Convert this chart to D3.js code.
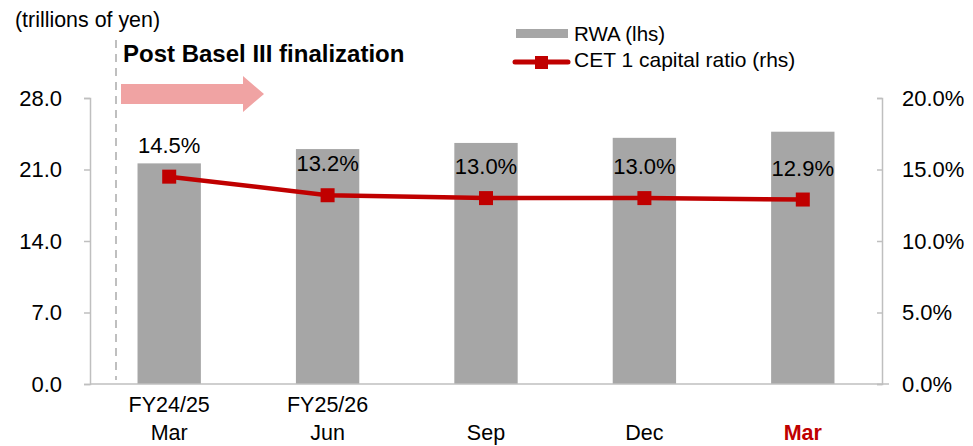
<!DOCTYPE html>
<html>
<head>
<meta charset="utf-8">
<script src="https://cdn.jsdelivr.net/npm/d3@7"></script>
<style>
  body { margin: 0; background: #fff; }
  text { font-family: Arial, "Liberation Sans", sans-serif; fill: #000; }
</style>
</head>
<body>
<div id="vis"></div>
<script>
// data
const periods = ["FY24/25 Mar", "FY25/26 Jun", "Sep", "Dec", "Mar"]
const topLines = ["FY24/25", "FY25/26", "", "", ""]
const bottomLines = ["Mar", "Jun", "Sep", "Dec", "Mar"]
const rwa = [21.6, 23.0, 23.6, 24.1, 24.7]
const cet1 = [0.145, 0.132, 0.130, 0.130, 0.129]
const leftTicks = [0, 7, 14, 21, 28]
const rightTicks = [0, 0.05, 0.10, 0.15, 0.20]

const W = 973, H = 446
const margin = {left: 90, right: 91, top: 98, bottom: 62}
const barColor = '#a6a6a6'
const lineColor = '#c00000'
const axisColor = '#bfbfbf'
const numSize = '22px'

const svg = d3.select('#vis').append('svg')
    .attr('width', W)
    .attr('height', H)

const x = d3.scaleBand()
    .domain(periods)
    .range([margin.left, W - margin.right])
    .paddingInner(0.6)
    .paddingOuter(0.3)

const yL = d3.scaleLinear().domain([0, 28]).range([H - margin.bottom, margin.top])
const yR = d3.scaleLinear().domain([0, 0.2]).range([H - margin.bottom, margin.top])

// bars
svg.selectAll('.bar')
    .data(rwa)
    .enter()
    .append('rect')
        .attr('class', 'bar')
        .attr('x', (d, i) => x(periods[i]))
        .attr('width', x.bandwidth())
        .attr('y', d => yL(d))
        .attr('height', d => yL(0) - yL(d))
        .attr('fill', barColor)

// left axis
let leftAxis = svg.append('g')
    .attr('transform', `translate(${margin.left},0)`)
    .call(d3.axisLeft(yL).tickValues(leftTicks).tickSize(6).tickPadding(22).tickFormat(d3.format('.1f')))
leftAxis.selectAll('path, line').attr('stroke', axisColor).attr('stroke-width', 1.5)
leftAxis.selectAll('text').attr('font-size', numSize).attr('fill', '#000')

// right axis
let rightAxis = svg.append('g')
    .attr('transform', `translate(${W - margin.right},0)`)
    .call(d3.axisRight(yR).tickValues(rightTicks).tickSize(-5).tickPadding(20).tickFormat(d3.format('.1%')))
rightAxis.selectAll('path, line').attr('stroke', axisColor).attr('stroke-width', 1.5)
rightAxis.selectAll('text').attr('font-size', numSize).attr('fill', '#000')

// baseline
svg.append('line')
    .attr('x1', margin.left).attr('x2', W - margin.right + 7)
    .attr('y1', yL(0)).attr('y2', yL(0))
    .attr('stroke', axisColor).attr('stroke-width', 1.5)

// category labels
let cx = (d, i) => x(periods[i]) + x.bandwidth() / 2
svg.selectAll('.top-label')
    .data(topLines)
    .enter()
    .append('text')
        .attr('x', cx)
        .attr('y', yL(0) + 28)
        .attr('text-anchor', 'middle')
        .attr('font-size', '21.5px')
        .text(d => d)
svg.selectAll('.bottom-label')
    .data(bottomLines)
    .enter()
    .append('text')
        .attr('x', cx)
        .attr('y', yL(0) + 56)
        .attr('text-anchor', 'middle')
        .attr('font-size', '21.5px')
        .attr('font-weight', (d, i) => i === periods.length - 1 ? 'bold' : 'normal')
        .style('fill', (d, i) => i === periods.length - 1 ? lineColor : '#000')
        .text(d => d)

// dashed divider + arrow
svg.append('line')
    .attr('x1', 116).attr('x2', 116)
    .attr('y1', 40).attr('y2', yL(0) - 4)
    .attr('stroke', '#bfbfbf').attr('stroke-width', 2)
    .attr('stroke-dasharray', '8,6')

svg.append('path')
    .attr('d', 'M121,84 L243,84 L243,76 L264,94 L243,112 L243,104 L121,104 Z')
    .attr('fill', '#f0a3a3')

svg.append('text')
    .attr('x', 123).attr('y', 62)
    .attr('font-size', '24px').attr('font-weight', 'bold')
    .text('Post Basel III finalization')

svg.append('text')
    .attr('x', 15).attr('y', 27)
    .attr('font-size', '21.4px')
    .text('(trillions of yen)')

// CET1 line
let line = d3.line()
    .x(cx)
    .y(d => yR(d))
svg.append('path')
    .datum(cet1)
    .attr('d', line)
    .attr('fill', 'none')
    .attr('stroke', lineColor)
    .attr('stroke-width', 4.5)

svg.selectAll('.marker')
    .data(cet1)
    .enter()
    .append('rect')
        .attr('class', 'marker')
        .attr('x', (d, i) => cx(d, i) - 7)
        .attr('y', d => yR(d) - 7)
        .attr('width', 14).attr('height', 14)
        .attr('fill', lineColor)

svg.selectAll('.value-label')
    .data(cet1)
    .enter()
    .append('text')
        .attr('x', cx)
        .attr('y', d => yR(d) - 24)
        .attr('text-anchor', 'middle')
        .attr('font-size', numSize)
        .text(d => d3.format('.1%')(d))

// legend
let legend = svg.append('g')
legend.append('rect')
    .attr('x', 516).attr('y', 29).attr('width', 52).attr('height', 9)
    .attr('fill', barColor)
legend.append('text')
    .attr('x', 574).attr('y', 41).attr('font-size', '20.5px')
    .text('RWA (lhs)')
legend.append('line')
    .attr('x1', 515).attr('x2', 568).attr('y1', 62).attr('y2', 62)
    .attr('stroke', lineColor).attr('stroke-width', 5).attr('stroke-linecap', 'round')
legend.append('rect')
    .attr('x', 535).attr('y', 56).attr('width', 13).attr('height', 13)
    .attr('fill', lineColor)
legend.append('text')
    .attr('x', 574).attr('y', 67).attr('font-size', '21px')
    .text('CET 1 capital ratio (rhs)')
</script>
</body>
</html>
